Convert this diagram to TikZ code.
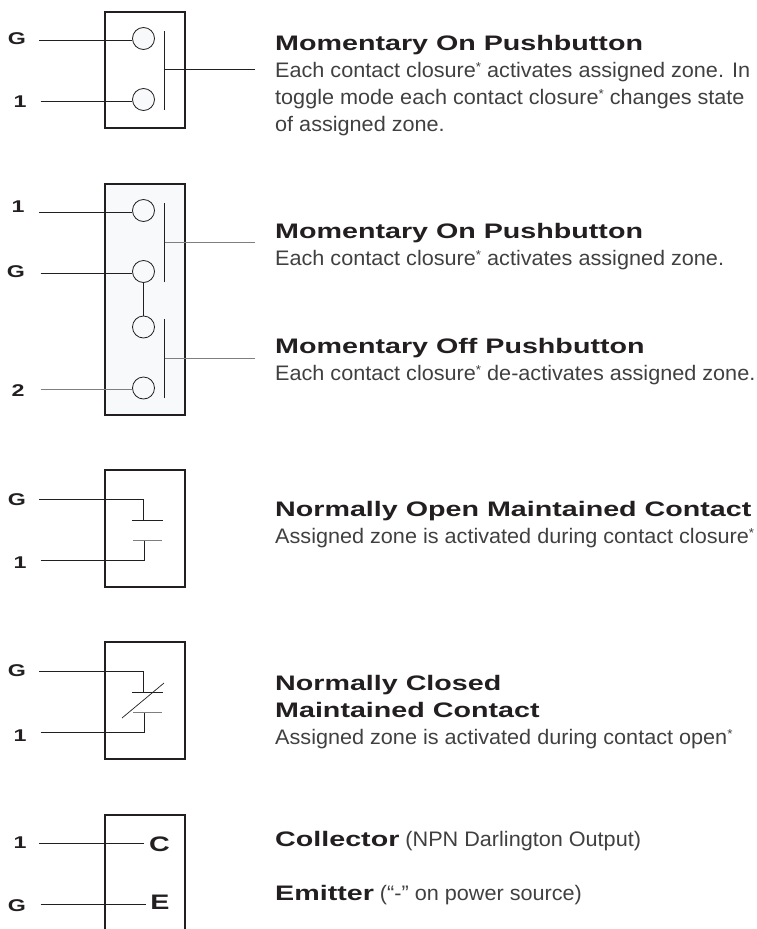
\documentclass[tikz,border=0pt]{standalone}
\usepackage{fontspec}
\usepackage{xcolor}
\setmainfont{Liberation Sans}
\newfontfamily\headfont[FakeStretch=1.365]{Liberation Sans Bold}
\newfontfamily\bodyfont[FakeStretch=1.03]{Liberation Sans}
\definecolor{inkdark}{HTML}{231F20}
\definecolor{inkbody}{HTML}{404040}
\definecolor{inkgray}{HTML}{7F7F7F}
\definecolor{paletint}{HTML}{F8F9FB}
\newcommand{\smallstar}{\raisebox{5.5pt}{\fontsize{13}{13}\selectfont *}}

\tikzset{
  housing/.style={rectangle, draw=inkdark, line width=1.1pt, minimum width=80pt, inner sep=0pt},
  contact/.style={circle, draw=inkdark, line width=0.8pt, fill=paletint, inner sep=0pt, minimum size=22pt},
  wire/.style={draw=inkdark, line width=0.7pt},
  greywire/.style={draw=inkgray, line width=0.9pt},
  pin/.style={font=\headfont\fontsize{17}{17}\selectfont, text=inkdark, inner sep=0pt},
  terminal/.style={font=\headfont\fontsize{21}{21}\selectfont, text=inkdark, inner sep=0pt},
  heading/.style={anchor=base west, font=\headfont\fontsize{21}{21}\selectfont, text=inkdark, inner sep=0pt},
  bodytext/.style={anchor=base west, font=\bodyfont\fontsize{21}{27}\selectfont, text=inkbody, inner sep=0pt, align=left}
}

\begin{document}
\begin{tikzpicture}[x=1pt, y=-1pt]
  \useasboundingbox (0,0) rectangle (757,929);

  % housings
  \node[housing, minimum height=116pt] (box1) at (145,70) {};
  \node[housing, minimum height=231pt, fill=paletint] (box2) at (145,299.5) {};
  \node[housing, minimum height=117pt] (box3) at (145,528.5) {};
  \node[housing, minimum height=117pt] (box4) at (145,700.5) {};
  \node[housing, minimum height=160pt] (box5) at (145,895) {};

  % first pushbutton
  \node[pin] (pinG1) at (17,39) {G};
  \node[pin] (pin11) at (20,102) {1};
  \node[contact] (c11) at (143.5,38.5) {};
  \node[contact] (c12) at (143.5,99.5) {};
  \coordinate (w11) at (39,40.5);
  \coordinate (w12) at (40.5,101);
  \coordinate (bar1a) at (164.5,31);
  \coordinate (bar1b) at (164.5,110);
  \coordinate (tap1a) at (164.5,69.5);
  \coordinate (tap1b) at (255,69.5);
  \draw[wire] (w11) -- (w11 -| c11.west);
  \draw[wire] (w12) -- (w12 -| c12.west);
  \draw[wire] (bar1a) -- (bar1b);
  \draw[wire] (tap1a) -- (tap1b);

  % double pushbutton
  \node[pin] (pin12) at (18,207) {1};
  \node[pin] (pinG2) at (16,272) {G};
  \node[pin] (pin22) at (18,391) {2};
  \node[contact] (c21) at (143.5,210.5) {};
  \node[contact] (c22) at (143.5,271.5) {};
  \node[contact] (c23) at (143.5,327) {};
  \node[contact] (c24) at (143.5,388) {};
  \coordinate (w21) at (39,212.5);
  \coordinate (w22) at (40.5,273.5);
  \coordinate (w24) at (40.5,389.5);
  \coordinate (bar2a) at (164.5,203);
  \coordinate (bar2b) at (164.5,282);
  \coordinate (bar2c) at (164.5,319);
  \coordinate (bar2d) at (164.5,398);
  \coordinate (tap2a) at (164.5,242);
  \coordinate (tap2b) at (255,242);
  \coordinate (tap2c) at (164.5,358);
  \coordinate (tap2d) at (255,358);
  \draw[wire] (w21) -- (w21 -| c21.west);
  \draw[wire] (w22) -- (w22 -| c22.west);
  \draw[greywire] (w24) -- (w24 -| c24.west);
  \draw[wire] (c22) -- (c23);
  \draw[wire] (bar2a) -- (bar2b);
  \draw[wire] (bar2c) -- (bar2d);
  \draw[greywire] (tap2a) -- (tap2b);
  \draw[greywire] (tap2c) -- (tap2d);

  % normally open
  \node[pin] (pinG3) at (17,500) {G};
  \node[pin] (pin13) at (20,563) {1};
  \coordinate (w31) at (39,499);
  \coordinate (w32) at (40.5,560);
  \coordinate (plate3a) at (132,520.5);
  \coordinate (plate3b) at (163,520.5);
  \coordinate (plate3c) at (133,540);
  \coordinate (plate3d) at (162,540);
  \coordinate (drop3a) at (143.5,520.5);
  \coordinate (drop3b) at (144.5,540);
  \draw[wire] (w31) -| (drop3a);
  \draw[wire] (w32) -| (drop3b);
  \draw[wire] (plate3a) -- (plate3b);
  \draw[greywire] (plate3c) -- (plate3d);

  % normally closed
  \node[pin] (pinG4) at (17,671) {G};
  \node[pin] (pin14) at (20,736) {1};
  \coordinate (w41) at (39,671);
  \coordinate (w42) at (40.5,732);
  \coordinate (plate4a) at (132,692.5);
  \coordinate (plate4b) at (163,692.5);
  \coordinate (plate4c) at (133,712);
  \coordinate (plate4d) at (162,712);
  \coordinate (drop4a) at (143.5,692.5);
  \coordinate (drop4b) at (144.5,712);
  \coordinate (slash4a) at (122,718);
  \coordinate (slash4b) at (164,683);
  \draw[wire] (w41) -| (drop4a);
  \draw[wire] (w42) -| (drop4b);
  \draw[wire] (plate4a) -- (plate4b);
  \draw[greywire] (plate4c) -- (plate4d);
  \draw[wire] (slash4a) -- (slash4b);

  % output
  \node[pin] (pin15) at (20,843) {1};
  \node[pin] (pinG5) at (17,906) {G};
  \node[terminal] (termC) at (159.5,844) {C};
  \node[terminal] (termE) at (160,902) {E};
  \coordinate (w51) at (39,843.5);
  \coordinate (w52) at (40.5,904);
  \coordinate (w51e) at (143.5,843.5);
  \coordinate (w52e) at (145.5,904);
  \draw[wire] (w51) -- (w51e);
  \draw[wire] (w52) -- (w52e);

  % descriptions
  \node[heading] (title1) at (275,50) {Momentary On Pushbutton};
  \node[bodytext] (text1) at (275,131) {Each contact closure\smallstar{} activates assigned zone. In\\toggle mode each contact closure\smallstar{} changes state\\of assigned zone.};
  \node[heading] (title2) at (275,238) {Momentary On Pushbutton};
  \node[bodytext] (text2) at (275,265) {Each contact closure\smallstar{} activates assigned zone.};
  \node[heading] (title3) at (275,353) {Momentary Off Pushbutton};
  \node[bodytext] (text3) at (275,380) {Each contact closure\smallstar{} de-activates assigned zone.};
  \node[heading] (title4) at (275,516) {Normally Open Maintained Contact};
  \node[bodytext] (text4) at (275,543) {Assigned zone is activated during contact closure\smallstar};
  \node[heading] (title5) at (275,690) {Normally Closed};
  \node[heading] (title5b) at (275,717) {Maintained Contact};
  \node[bodytext] (text5) at (275,744) {Assigned zone is activated during contact open\smallstar};
  \node[bodytext] (text6) at (275,846) {{\headfont\color{inkdark}Collector} (NPN Darlington Output)};
  \node[bodytext] (text7) at (275,900) {{\headfont\color{inkdark}Emitter} (“-” on power source)};
\end{tikzpicture}
\end{document}
